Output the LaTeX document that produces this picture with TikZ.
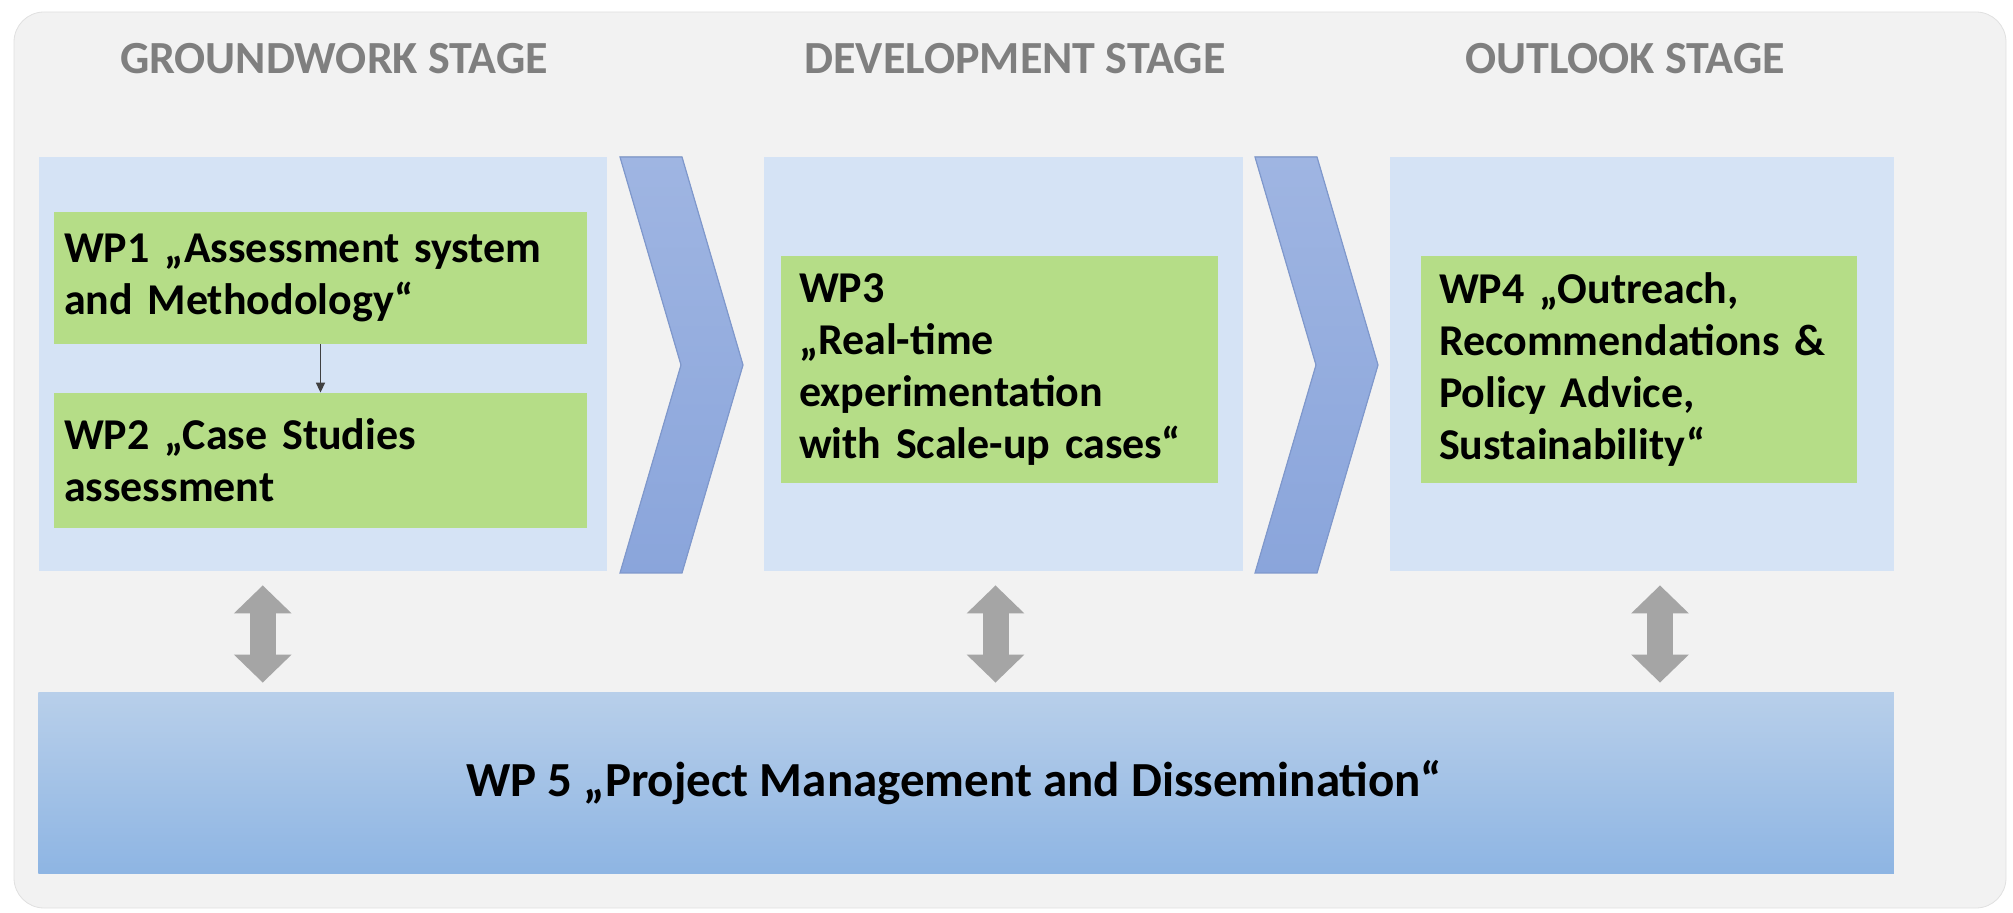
\documentclass[tikz,border=0pt]{standalone}
\usepackage{fontspec}
\setmainfont{Carlito}
\usepackage{tikz}
\usepackage{xcolor}
\usetikzlibrary{arrows.meta}
\definecolor{panelgrey}{HTML}{F2F2F2}
\definecolor{stageblue}{HTML}{D5E3F5}
\definecolor{wpgreen}{HTML}{B5DD87}
\definecolor{chevrontop}{HTML}{9FB5E2}
\definecolor{chevronbottom}{HTML}{8AA5DB}
\definecolor{chevronedge}{HTML}{7F98CC}
\definecolor{titlegrey}{HTML}{7F7F7F}
\definecolor{linkgrey}{HTML}{A5A5A5}
\definecolor{stepgrey}{HTML}{404040}
\definecolor{barlight}{HTML}{B8CFEA}
\definecolor{bardark}{HTML}{8EB5E3}

\tikzset{
  stagebox/.style={fill=stageblue, inner sep=0pt, minimum height=207pt},
  wpbox/.style={fill=wpgreen, font=\fontsize{22}{26}\selectfont\bfseries, align=left, inner xsep=9pt, inner ysep=0pt},
  stagetitle/.style={text=titlegrey, font=\fontsize{23}{28}\selectfont\bfseries},
  chevronshape/.style={top color=chevrontop, bottom color=chevronbottom, draw=chevronedge, line width=0.6pt},
  dblarrow/.style={draw=linkgrey, line width=13pt, {Triangle[width=28pt,length=14pt]}-{Triangle[width=28pt,length=14pt]}, shorten <=7pt, shorten >=5pt},
}

\begin{document}
\begin{tikzpicture}[x=0.5pt, y=-0.5pt]
\useasboundingbox (0,0) rectangle (2013,913);
\filldraw[fill=panelgrey, draw=black!12, rounded corners=15pt] (14,12) rectangle (2006,908);

% stages
\node[stagebox, minimum width=284.25pt] (ground) at (322.75,364) {};
\node[stagebox, minimum width=239.5pt] (devel) at (1003.5,364) {};
\node[stagebox, minimum width=252pt] (outlook) at (1642,364) {};

\node[stagetitle] (groundtitle) at (334,59) {GROUNDWORK STAGE};
\node[stagetitle] (develtitle) at (1015,59) {DEVELOPMENT STAGE};
\node[stagetitle] (outlooktitle) at (1625,59) {OUTLOOK STAGE};

\foreach \cx in {620,1255}
  \filldraw[chevronshape] (\cx,157) -- ++(62,0) -- ++(61,208) -- ++(-61,208) -- ++(-62,0) -- ++(61,-208) -- cycle;

% work packages
\node[wpbox, inner xsep=5pt, text width=256.5pt, minimum height=66pt] (wp1) at (320.5,278) {WP1 „Assessment system\\and Methodology“};
\node[wpbox, inner xsep=5pt, text width=256.5pt, minimum height=67.5pt] (wp2) at (320.5,460.5) {WP2 „Case Studies\\assessment};
\node[wpbox, text width=200.5pt, minimum height=113.5pt] (wp3) at (999.5,369.5) {WP3\\„Real-time\\experimentation\\with Scale-up cases“};
\node[wpbox, text width=200pt, minimum height=113.5pt] (wp4) at (1639,369.5) {WP4 „Outreach,\\Recommendations \&\\Policy Advice,\\Sustainability“};

\node[top color=barlight, bottom color=bardark, minimum width=927.75pt, minimum height=90pt, inner sep=0pt, font=\fontsize{24.5}{29}\selectfont\bfseries] (wp5) at (966,783) {\hspace*{-12pt}WP 5 „Project Management and Dissemination“};

\draw[stepgrey, line width=0.8pt, -{Triangle[length=5pt,width=4.5pt]}] (wp1) -- (wp2);
\draw[dblarrow] ([xshift=-30pt]ground.south) -- ([xshift=-30pt]ground.south |- wp5.north);
\draw[dblarrow] ([xshift=-4pt]devel.south) -- ([xshift=-4pt]devel.south |- wp5.north);
\draw[dblarrow] ([xshift=9pt]outlook.south) -- ([xshift=9pt]outlook.south |- wp5.north);
\end{tikzpicture}
\end{document}
